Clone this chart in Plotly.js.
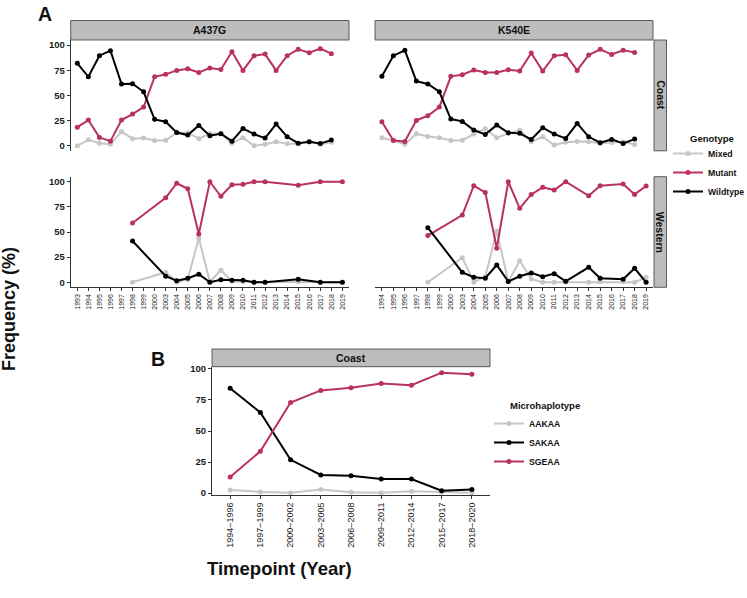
<!DOCTYPE html>
<html>
<head>
<meta charset="utf-8">
<script src="https://cdn.plot.ly/plotly-3.0.1.min.js"></script>
<style>
  html, body { margin: 0; padding: 0; background: #fff; }
  #chart { width: 747px; height: 598px; }
</style>
</head>
<body>
<div id="chart"></div>
<script>
// ---- category axes ----
const yearsA437G = ['1993','1994','1995','1996','1997','1998','1999','2000','2003','2004','2005','2006','2007','2008','2009','2010','2011','2012','2013','2014','2015','2016','2017','2018','2019'];
const yearsK540E = ['1994','1995','1996','1997','1998','1999','2000','2003','2004','2005','2006','2007','2008','2009','2010','2011','2012','2013','2014','2015','2016','2017','2018','2019'];
const periods = ['1994–1996','1997–1999','2000–2002','2003–2005','2006–2008','2009–2011','2012–2014','2015–2017','2018–2020'];

// ---- A437G, Coast ----
const a437gCoastYears = ['1993','1994','1995','1996','1997','1998','1999','2000','2003','2004','2005','2006','2007','2008','2009','2010','2011','2012','2013','2014','2015','2016','2017','2018'];
const a437gCoastMixed    = [0, 6, 2.5, 1.5, 14, 7, 7.6, 5.3, 5.5, 13, 13, 7, 12, 12.5, 2.5, 8, 0, 1.5, 4, 2, 2, 4, 1.5, 3.5];
const a437gCoastMutant   = [18.5, 25.5, 8.3, 4.6, 25.5, 31.5, 38.4, 68.5, 70.9, 74.8, 76.5, 72.8, 77.2, 75.8, 93.4, 74.8, 89.4, 91.0, 74.8, 89.4, 95.7, 92.4, 96.4, 91.4];
const a437gCoastWildtype = [81.8, 68.5, 89.4, 94.4, 61.3, 61.6, 53.6, 26.2, 23.8, 13.2, 10.6, 20.2, 9.9, 11.9, 4.6, 17.2, 11.6, 7.6, 21.5, 8.9, 2.6, 4.0, 2.3, 5.6];

// ---- A437G, Western ----
const a437gWestYears = ['1998','2003','2004','2005','2006','2007','2008','2009','2010','2011','2012','2015','2017','2019'];
const a437gWestMixed    = [0, 10, 0, 3, 44, 0.5, 12, 1, 0.5, 0, 0, 0.5, 0, 0];
const a437gWestMutant   = [59, 84, 98.5, 93, 48, 100, 85.5, 97, 97.5, 100, 100, 96.5, 100, 100];
const a437gWestWildtype = [41, 6, 1.5, 4, 8, 0, 2.5, 2, 2, 0, 0, 3, 0, 0];

// ---- K540E, Coast ----
const k540eCoastYears = ['1994','1995','1996','1997','1998','1999','2000','2003','2004','2005','2006','2007','2008','2009','2010','2011','2012','2013','2014','2015','2016','2017','2018'];
const k540eCoastMixed    = [7.9, 5.3, 1.5, 12, 9.3, 8, 5.3, 5.5, 11.6, 17, 7.9, 12.3, 15.6, 4, 8.9, 0.7, 3.6, 4.3, 4, 2.6, 3.3, 4, 1.3];
const k540eCoastMutant   = [23.8, 5.3, 4.3, 25.2, 29.8, 38.4, 68.9, 70.5, 75.2, 72.8, 72.8, 75.5, 74.2, 92.0, 74.2, 89.4, 90.4, 74.8, 90.0, 95.7, 90.7, 94.7, 92.7];
const k540eCoastWildtype = [68.9, 89.4, 94.7, 64.2, 61.3, 53.6, 26.5, 24.2, 15.6, 11.3, 20.5, 12.9, 12.3, 6.3, 17.9, 11.6, 7.3, 22.2, 8.9, 3.0, 6.3, 2.3, 6.6];

// ---- K540E, Western ----
const k540eWestYears = ['1998','2003','2004','2005','2006','2007','2008','2009','2010','2011','2012','2014','2015','2017','2018','2019'];
const k540eWestMixed    = [0, 24.5, 0, 5.6, 51, 0.5, 21.5, 3.3, 0, 0, 0, 0, 0.5, 0.5, 0, 5];
const k540eWestMutant   = [46.4, 66.9, 96, 89.4, 33.8, 100, 73.5, 87.4, 94.4, 91.7, 100, 86, 96, 97.7, 87.4, 95.7];
const k540eWestWildtype = [54.3, 9.9, 5, 4, 17.2, 0.7, 6, 9.3, 5.6, 8.6, 1, 14.9, 4, 3, 13.9, 0];

// ---- Microhaplotypes, Coast ----
const aakaa = [2.6, 1.0, 0.3, 2.9, 0.8, 0.3, 1.6, 0.8, 0.3];
const sakaa = [84.5, 64.9, 26.8, 14.6, 14.0, 11.4, 11.4, 1.9, 2.9];
const sgeaa = [13.0, 33.7, 72.9, 82.7, 84.8, 88.3, 86.9, 97.0, 95.7];

// ---- styling ----
const COL_MIXED = '#c6c6c6';
const COL_MUT = '#b8315f';
const COL_WT = '#000000';
const FONT = 'Liberation Sans, Arial, sans-serif';
const W = 747, H = 598;
const px = v => v / W;
const py = v => 1 - v / H;

function series(x, y, name, color, xa, ya, show, legend) {
  return {
    type: 'scatter', mode: 'lines+markers',
    x: x, y: y, name: name, legendgroup: name + (legend || ''),
    showlegend: show, legend: legend || 'legend',
    xaxis: xa, yaxis: ya,
    line: { color: color, width: 2 },
    marker: { color: color, size: 5 },
    hoverinfo: 'x+y+name'
  };
}

const traces = [];
function genotypePanel(years, mixed, mut, wt, xa, ya, show) {
  traces.push(series(years, mixed, 'Mixed', COL_MIXED, xa, ya, show));
  traces.push(series(years, mut, 'Mutant', COL_MUT, xa, ya, show));
  traces.push(series(years, wt, 'Wildtype', COL_WT, xa, ya, show));
}
genotypePanel(a437gCoastYears, a437gCoastMixed, a437gCoastMutant, a437gCoastWildtype, 'x', 'y', true);
genotypePanel(k540eCoastYears, k540eCoastMixed, k540eCoastMutant, k540eCoastWildtype, 'x2', 'y2', false);
genotypePanel(a437gWestYears, a437gWestMixed, a437gWestMutant, a437gWestWildtype, 'x3', 'y3', false);
genotypePanel(k540eWestYears, k540eWestMixed, k540eWestMutant, k540eWestWildtype, 'x4', 'y4', false);

traces.push(series(periods, aakaa, 'AAKAA', COL_MIXED, 'x5', 'y5', true, 'legend2'));
traces.push(series(periods, sakaa, 'SAKAA', COL_WT, 'x5', 'y5', true, 'legend2'));
traces.push(series(periods, sgeaa, 'SGEAA', COL_MUT, 'x5', 'y5', true, 'legend2'));

// ---- panel geometry (pixels) ----
const colL = [70.7, 349], colR = [375, 653];
const rowT = [40, 150.8], rowB = [176.7, 287.3];
const panB = { x: [212, 490], y: [366.7, 495] };

const tickFont = { family: FONT, size: 9.5, color: '#1a1a1a', weight: 'bold' };
const yearFont = { family: FONT, size: 7, color: '#222' };

function xCat(cats, dom, anchor, labels) {
  return {
    type: 'category', categoryorder: 'array', categoryarray: cats,
    range: [-0.6, cats.length - 0.4], domain: [px(dom[0]), px(dom[1])],
    anchor: anchor, showgrid: false, zeroline: false,
    showline: labels, linecolor: '#333', linewidth: 1,
    ticks: labels ? 'outside' : '', ticklen: 3, tickcolor: '#333',
    showticklabels: labels, tickangle: -90, tickfont: yearFont,
    fixedrange: true
  };
}
function yLin(dom, anchor, labels, range) {
  return {
    range: range || [-5, 105], domain: [py(dom[1]), py(dom[0])],
    anchor: anchor, showgrid: false, zeroline: false,
    tickvals: [0, 25, 50, 75, 100],
    showline: labels, linecolor: '#333', linewidth: 1,
    ticks: labels ? 'outside' : '', ticklen: 3, tickcolor: '#333',
    showticklabels: labels, tickfont: tickFont, fixedrange: true
  };
}

// facet strips
const STRIP_FILL = '#bdbdbd', STRIP_LINE = '#3a3a3a';
const shapes = [];
const annotations = [];
function label(x, y, text, size, opts) {
  annotations.push(Object.assign({ xref: 'paper', yref: 'paper', x: px(x), y: py(y),
    text: text, showarrow: false, xanchor: 'center', yanchor: 'middle',
    font: { family: FONT, size: size, color: '#111' } }, opts || {}));
}
function strip(x0, x1, y0, y1, text, angle) {
  shapes.push({ type: 'rect', xref: 'paper', yref: 'paper',
    x0: px(x0), x1: px(x1), y0: py(y1), y1: py(y0),
    fillcolor: STRIP_FILL, line: { color: STRIP_LINE, width: 0.8 }, layer: 'below' });
  label((x0 + x1) / 2, (y0 + y1) / 2, '<b>' + text + '</b>', 10.5, { textangle: angle || 0 });
}
strip(colL[0], colL[1], 20.5, 40, 'A437G');
strip(colR[0], colR[1], 20.5, 40, 'K540E');
strip(654, 666.5, rowT[0], rowT[1], 'Coast', 90);
strip(654, 666.5, rowB[0], rowB[1], 'Western', 90);
strip(panB.x[0], panB.x[1], 349, 366.7, 'Coast');

// panel letters, axis titles, legend headings
label(44.5, 0.5, '<b>A</b>', 19.5, { yanchor: 'top' });
label(158, 346, '<b>B</b>', 19.5, { yanchor: 'top' });
label(9, 309, '<b>Frequency (%)</b>', 18, { textangle: -90 });
label(279, 568, '<b>Timepoint (Year)</b>', 18.5);
label(688, 138, '<b>Genotype</b>', 9.5, { xanchor: 'left' });
label(508, 405, '<b>Microhaplotype</b>', 9.5, { xanchor: 'left' });

const legendStyle = {
  font: { family: FONT, size: 8.7, color: '#111', weight: 'bold' },
  bgcolor: 'rgba(0,0,0,0)', borderwidth: 0, itemwidth: 30,
  xanchor: 'left', yanchor: 'top', tracegroupgap: 0
};

const layout = {
  width: W, height: H,
  margin: { l: 0, r: 0, t: 0, b: 0, autoexpand: false },
  paper_bgcolor: '#fff', plot_bgcolor: 'rgba(0,0,0,0)',
  font: { family: FONT },
  showlegend: true,
  legend: Object.assign({}, legendStyle, { x: px(668), y: py(139) }),
  legend2: Object.assign({}, legendStyle, { x: px(489), y: py(409) }),
  xaxis:  xCat(yearsA437G, colL, 'y', false),
  yaxis:  yLin(rowT, 'x', true),
  xaxis2: xCat(yearsK540E, colR, 'y2', false),
  yaxis2: yLin(rowT, 'x2', false),
  xaxis3: xCat(yearsA437G, colL, 'y3', true),
  yaxis3: yLin(rowB, 'x3', true),
  xaxis4: xCat(yearsK540E, colR, 'y4', true),
  yaxis4: yLin(rowB, 'x4', false),
  xaxis5: Object.assign(xCat(periods, panB.x, 'y5', true), { tickfont: { family: FONT, size: 9, color: '#222' } }),
  yaxis5: yLin(panB.y, 'x5', true, [-1.5, 101.8]),
  shapes: shapes,
  annotations: annotations
};

Plotly.newPlot('chart', traces, layout, { displayModeBar: false, staticPlot: true });
</script>
</body>
</html>
